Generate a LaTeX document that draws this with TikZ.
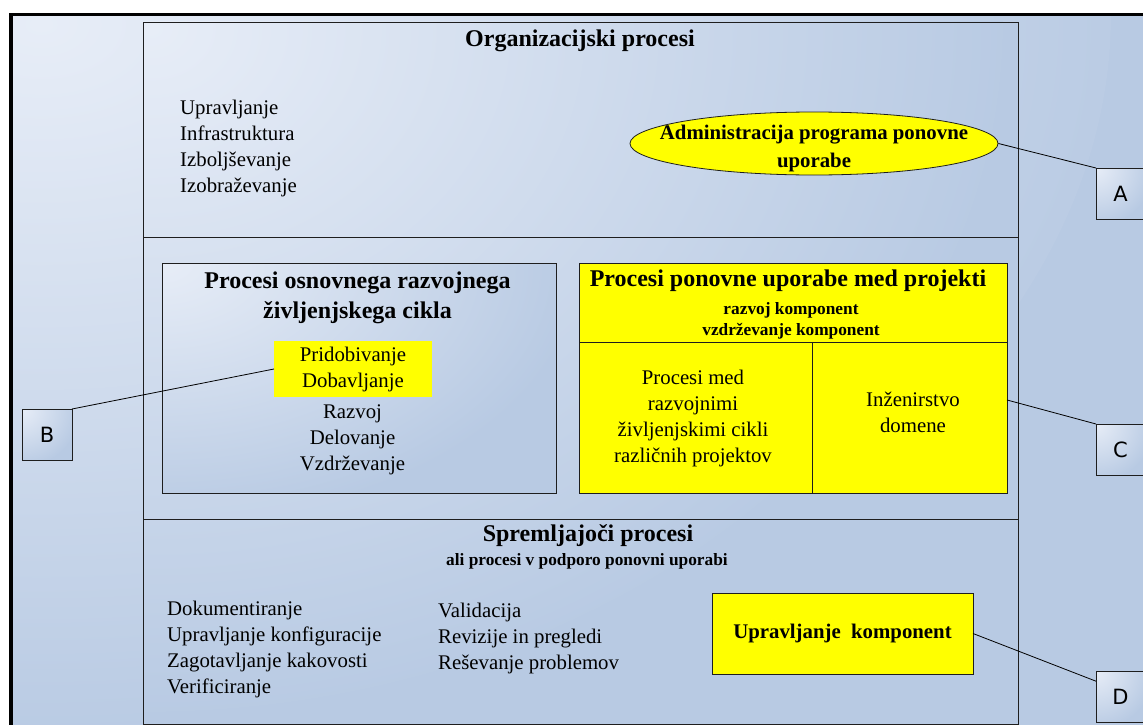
\documentclass[tikz,border=0pt]{standalone}
\usepackage{fontspec}
\setmainfont{Liberation Serif}
\newfontfamily\tagfont{DejaVu Sans}
\usetikzlibrary{shapes.geometric,calc}

\definecolor{paleblue}{RGB}{231,237,247}
\definecolor{steelblue}{RGB}{184,202,227}
\definecolor{hiyellow}{RGB}{255,255,0}
\definecolor{edge}{RGB}{30,30,30}

% light spot fading out to steel blue at the rim of the shaded path
\pgfdeclareradialshading{cornerglow}{\pgfpointorigin}{%
  color(0bp)=(paleblue); color(25bp)=(steelblue); color(50bp)=(steelblue)}

\newcommand{\setfs}[2]{\fontsize{#1}{#2}\selectfont}

\tikzset{
  x=1pt, y=-1pt,
  glow rx/.initial=100,
  glow ry/.initial=100,
  box/.style={rectangle, inner sep=0pt, outer sep=0pt, anchor=north west},
  framed/.style={draw=edge, line width=0.8pt},
  % panel filled with a glow that starts in its upper left corner
  panel/.style={box, framed, fill=steelblue,
    path picture={
      \shade[shading=cornerglow] (path picture bounding box.north west) ellipse
        [x radius={\pgfkeysvalueof{/tikz/glow rx}}, y radius={\pgfkeysvalueof{/tikz/glow ry}}];
    }},
  yellowbox/.style={box, framed, fill=hiyellow},
  tagtext/.style={inner sep=0pt, font=\tagfont\setfs{21}{25}},
  plain/.style={inner sep=0pt, align=left, font=\setfs{20.8}{25.8}},
  centred/.style={inner sep=0pt, align=center, font=\setfs{20.8}{26}},
  heading/.style={inner sep=0pt, align=center, font=\bfseries\setfs{24}{30}},
  subheading/.style={inner sep=0pt, align=center, font=\bfseries\setfs{17.3}{21}},
  link/.style={draw=black, line width=0.8pt},
}

\begin{document}
\begin{tikzpicture}
\useasboundingbox (0,0) rectangle (1143,725);
\fill[white] (0,0) rectangle (1143,725);
\clip (0,0) rectangle (1143,725);

% outer frame
\node[panel, glow rx=1100, glow ry=720, draw=black, line width=3.4pt,
      minimum width=1160pt, minimum height=740pt] (outer) at (11,14.3) {};

% main body and its three bands
\node[panel, glow rx=860, glow ry=690, minimum width=875pt, minimum height=702pt] (body) at (143,22) {};
\node[box, framed, minimum width=875pt, minimum height=215pt] (orgband) at (143,22) {};
\node[box, framed, minimum width=875pt, minimum height=282pt] (midband) at (143,237) {};
\node[box, framed, minimum width=875pt, minimum height=205pt] (supband) at (143,519) {};

% organisational processes
\node[heading] (orgtitle) at (580,41) {Organizacijski procesi};
\node[plain, anchor=west] (orglist) at (180,148.5)
  {Upravljanje\\Infrastruktura\\Izboljševanje\\Izobraževanje};
\node[ellipse, framed, fill=hiyellow, minimum width=368pt, minimum height=63pt,
      inner sep=0pt] (admin) at (814,143.5) {};
\node[inner sep=0pt, align=center, font=\bfseries\setfs{20.8}{27.5}] (admintext) at (814,148.5)
  {Administracija programa ponovne\\uporabe};

% primary life-cycle processes
\node[panel, glow rx=420, glow ry=260, minimum width=394pt, minimum height=230pt] (primary) at (162,263) {};
\node[heading] (primtitle) at (357.5,298) {Procesi osnovnega razvojnega\\življenjskega cikla};
\node[box, fill=hiyellow, minimum width=158pt, minimum height=56pt] (acquire) at (274,341) {};
\node[centred] (acqtext) at (acquire.center) {Pridobivanje\\Dobavljanje};
\node[centred] (primlist) at (352.5,440) {Razvoj\\Delovanje\\Vzdrževanje};

% cross-project reuse processes
\node[yellowbox, minimum width=428pt, minimum height=79pt] (reusehead) at (579,263) {};
\node[yellowbox, minimum width=233pt, minimum height=151pt] (lcell) at (579,342) {};
\node[yellowbox, minimum width=195pt, minimum height=151pt] (rcell) at (812,342) {};
\node[heading] (reusetitle) at (788,281) {Procesi ponovne uporabe med projekti};
\node[subheading] (reusesub) at (791,320.5) {razvoj komponent\\vzdrževanje komponent};
\node[centred] (lcelltext) at (693,418) {Procesi med\\razvojnimi\\življenjskimi cikli\\različnih projektov};
\node[centred] (rcelltext) at (913,412.5) {Inženirstvo\\domene};

% supporting processes
\node[heading] (suptitle) at (588,536) {Spremljajoči procesi};
\node[subheading] (supsub) at (587,561) {ali procesi v podporo ponovni uporabi};
\node[plain, anchor=west] (suplist) at (167,649.5)
  {Dokumentiranje\\Upravljanje konfiguracije\\Zagotavljanje kakovosti\\Verificiranje};
\node[plain, anchor=west] (checklist) at (438,638.5)
  {Validacija\\Revizije in pregledi\\Reševanje problemov};
\node[yellowbox, minimum width=261pt, minimum height=81pt] (compmgmt) at (712,593) {};
\node[inner sep=0pt, font=\bfseries\setfs{20.8}{26}] (comptext) at (compmgmt.center) {Upravljanje\ \ komponent};

% callout tags
\tikzset{tagbox/.style={panel, glow rx=58, glow ry=58, minimum width=49pt, minimum height=51pt}}
\node[tagbox] (tagA) at (1096,168) {};
\node[tagbox, minimum width=50pt] (tagB) at (22,409) {};
\node[tagbox] (tagC) at (1096,424) {};
\node[tagbox] (tagD) at (1096,671) {};
\node[tagtext] (tagAtext) at (tagA.center) {A};
\node[tagtext] (tagBtext) at (tagB.center) {B};
\node[tagtext] (tagCtext) at (tagC.center) {C};
\node[tagtext] (tagDtext) at (tagD.center) {D};

% leader lines
\draw[link] (admin.east) -- (tagA.north west);
\draw[link] (tagB.north east) -- (acquire.west);
\draw[link] ($(rcell.north east)!0.384!(rcell.south east)$) -- (tagC.north west);
\draw[link] (compmgmt.east) -- ($(tagD.north west)!0.2!(tagD.south west)$);
\end{tikzpicture}
\end{document}
